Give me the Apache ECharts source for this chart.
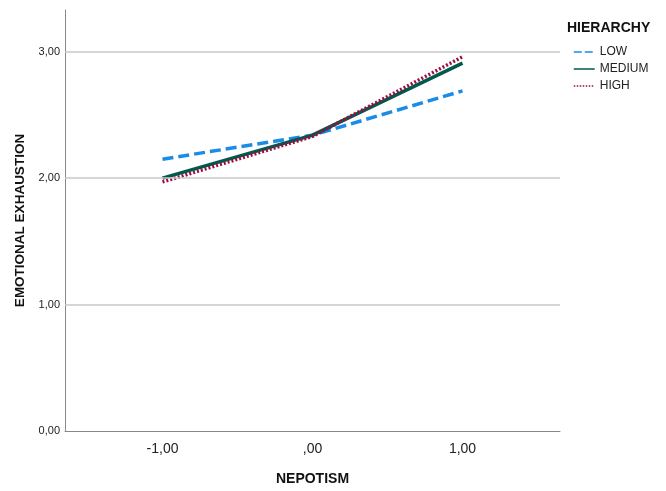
<!DOCTYPE html>
<html><head><meta charset="utf-8">
<script src="https://cdn.jsdelivr.net/npm/echarts@6/dist/echarts.min.js"></script>
<style>html,body{margin:0;padding:0;background:#fff;overflow:hidden}#c{width:666px;height:491px}</style>
</head><body><div id="c"></div>
<script>
const xValues = [-1, 0, 1];
const lowValues = [2.15, 2.34, 2.69];
const mediumValues = [2.00, 2.34, 2.91];
const highValues = [1.97, 2.33, 2.96];
const yTicks = [0, 1, 2, 3];
const gridValues = [1, 2, 3];
const xTicks = [-1, 0, 1];
const seriesNames = ['LOW', 'MEDIUM', 'HIGH'];

function fmtX(v) {
  let s = Math.abs(v).toFixed(2).replace('.', ',');
  if (Math.abs(v) < 1) s = s.replace(/^0/, '');
  return (v < 0 ? '-' : '') + s;
}
function fmtY(v) { return v.toFixed(2).replace('.', ','); }
const font = 'Liberation Sans, Arial, sans-serif';
const chart = echarts.init(document.getElementById('c'), null, {renderer: 'canvas', width: 666, height: 491});
function pts(vals) { return xValues.map((x, i) => [x, vals[i]]); }
chart.setOption({
  animation: false,
  grid: {left: 65, right: 106, top: 10, bottom: 54, containLabel: false},
  xAxis: {
    type: 'value', min: -1.65, max: 1.65,
    name: 'NEPOTISM', nameLocation: 'middle', nameGap: 41,
    nameTextStyle: {fontFamily: font, fontSize: 14, fontWeight: 'bold', color: '#111'},
    axisLine: {show: true, onZero: false, lineStyle: {color: '#888', width: 1}},
    axisTick: {show: false},
    splitLine: {show: false},
    axisLabel: {customValues: xTicks, formatter: v => fmtX(v), fontFamily: font, fontSize: 14, color: '#222', margin: 11}
  },
  yAxis: {
    type: 'value', min: 0, max: 3.33,
    name: 'EMOTIONAL EXHAUSTION', nameLocation: 'middle', nameGap: 37,
    nameTextStyle: {fontFamily: font, fontSize: 13.5, fontWeight: 'bold', color: '#111'},
    axisLine: {show: true, onZero: false, lineStyle: {color: '#888', width: 1}},
    axisTick: {show: false},
    splitLine: {show: false},
    axisLabel: {customValues: yTicks, formatter: v => fmtY(v), fontFamily: font, fontSize: 11, color: '#222', margin: 5}
  },
  legend: {
    orient: 'vertical', left: 573, top: 46, padding: 0, itemGap: 5, itemWidth: 21, itemHeight: 12,
    data: [
      {name: 'LOW', lineStyle: {type: [8, 3]}},
      {name: 'MEDIUM'},
      {name: 'HIGH', lineStyle: {type: [1.5, 1.5]}}
    ],
    textStyle: {fontFamily: font, fontSize: 12, color: '#222'},
    lineStyle: {width: 1.5},
    itemStyle: {opacity: 0}
  },
  graphic: [{type: 'text', left: 567, top: 21, style: {text: 'HIERARCHY', font: 'bold 14px ' + font, fill: '#111'}}],
  series: [
    {type: 'line', name: 'Grid', data: [], markLine: {silent: true, symbol: 'none', label: {show: false},
      lineStyle: {color: '#c8c8c8', type: 'solid', width: 1.5}, data: gridValues.map(v => ({yAxis: v}))}},
    {type: 'line', name: 'LOW', data: pts(lowValues), symbol: 'none',
      lineStyle: {color: '#1a8ce6', width: 3.5, type: [11, 5]}, itemStyle: {color: '#1a8ce6'}},
    {type: 'line', name: 'MEDIUM', data: pts(mediumValues), symbol: 'none',
      lineStyle: {color: '#005a4c', width: 3.5, type: 'solid'}, itemStyle: {color: '#005a4c'}},
    {type: 'line', name: 'HIGH', data: pts(highValues), symbol: 'none',
      lineStyle: {color: '#9b0c3f', width: 3.5, type: [2, 2]}, itemStyle: {color: '#9b0c3f'}}
  ]
});
</script></body></html>
